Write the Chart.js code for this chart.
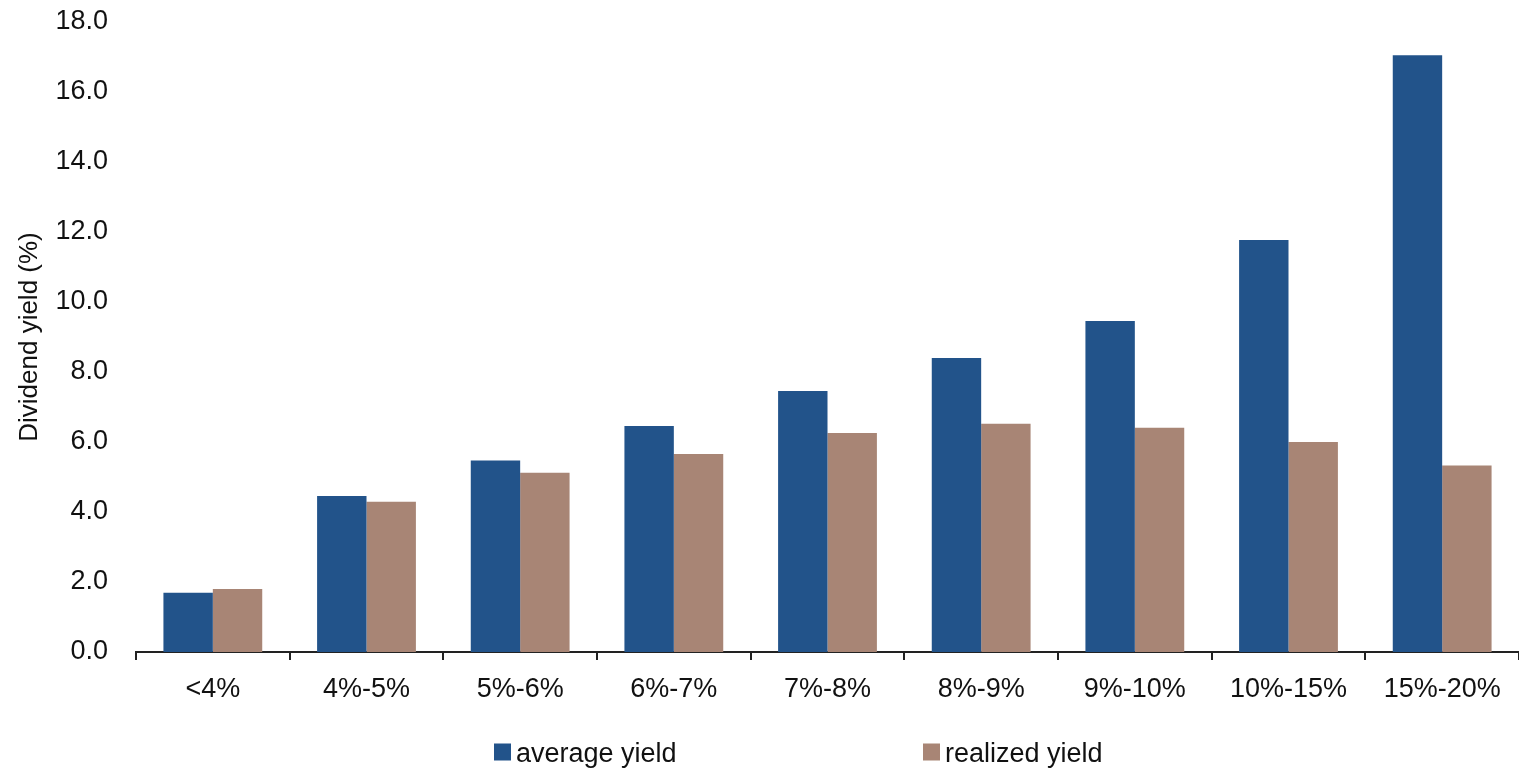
<!DOCTYPE html>
<html>
<head>
<meta charset="utf-8">
<script src="https://cdn.jsdelivr.net/npm/chart.js@4/dist/chart.umd.min.js"></script>
<style>
  html, body { margin: 0; padding: 0; background: #fff; }
  #wrap { width: 1519px; height: 769px; }
</style>
</head>
<body>
<div id="wrap"><canvas id="c" width="1519" height="769"></canvas></div>
<script>
const categories = ['<4%', '4%-5%', '5%-6%', '6%-7%', '7%-8%', '8%-9%', '9%-10%', '10%-15%', '15%-20%'];
const averageYield = [1.69, 4.46, 5.47, 6.46, 7.46, 8.40, 9.46, 11.77, 17.05];
const realizedYield = [1.80, 4.29, 5.12, 5.66, 6.26, 6.52, 6.41, 6.00, 5.33];
const seriesNames = ['average yield', 'realized yield'];
const yTitle = 'Dividend yield (%)';

const FONT = '"Liberation Sans", Arial, sans-serif';

const customLegend = {
  id: 'customLegend',
  afterDraw(chart) {
    const ctx = chart.ctx;
    const area = chart.chartArea;
    const starts = [area.left + 358, area.left + 787];
    ctx.save();
    ctx.font = '27px ' + FONT;
    ctx.textBaseline = 'middle';
    ctx.textAlign = 'left';
    chart.data.datasets.forEach((ds, i) => {
      const x = starts[i];
      const y = 752;
      ctx.fillStyle = ds.backgroundColor;
      ctx.fillRect(x, y - 8.5, 17, 17);
      ctx.fillStyle = '#111';
      ctx.fillText(ds.label, x + 22, y + 3);
    });
    ctx.restore();
  }
};

new Chart(document.getElementById('c'), {
  type: 'bar',
  data: {
    labels: categories,
    datasets: [
      { label: seriesNames[0], data: averageYield, backgroundColor: '#22538A', borderWidth: 0 },
      { label: seriesNames[1], data: realizedYield, backgroundColor: '#A88575', borderWidth: 0 }
    ]
  },
  options: {
    responsive: false,
    animation: false,
    devicePixelRatio: 1,
    layout: { padding: { top: 22, right: 0, bottom: 63, left: 0 } },
    plugins: {
      legend: { display: false },
      tooltip: { enabled: false },
      title: { display: false }
    },
    datasets: {
      bar: { categoryPercentage: 0.643, barPercentage: 1.0 }
    },
    scales: {
      x: {
        offset: true,
        grid: { display: true, offset: true, drawOnChartArea: false, drawTicks: true, tickLength: 8, color: '#222', lineWidth: 2 },
        border: { display: true, color: '#222', width: 2 },
        ticks: { font: { family: FONT, size: 27 }, color: '#111', padding: 13, maxRotation: 0, autoSkip: false },
        afterFit(scale) { scale.height = 54; }
      },
      y: {
        min: 0, max: 18,
        grid: { display: false, drawTicks: false },
        border: { display: false },
        ticks: {
          stepSize: 2,
          font: { family: FONT, size: 27 },
          color: '#111',
          padding: 28,
          callback: v => Number(v).toFixed(1)
        },
        title: { display: true, text: yTitle, font: { family: FONT, size: 26 }, color: '#111', padding: { top: 14, bottom: 0 } },
        afterFit(scale) { scale.width = 136; scale.paddingTop = 0; scale.paddingBottom = 0; }
      }
    }
  },
  plugins: [customLegend]
});
</script>
</body>
</html>
